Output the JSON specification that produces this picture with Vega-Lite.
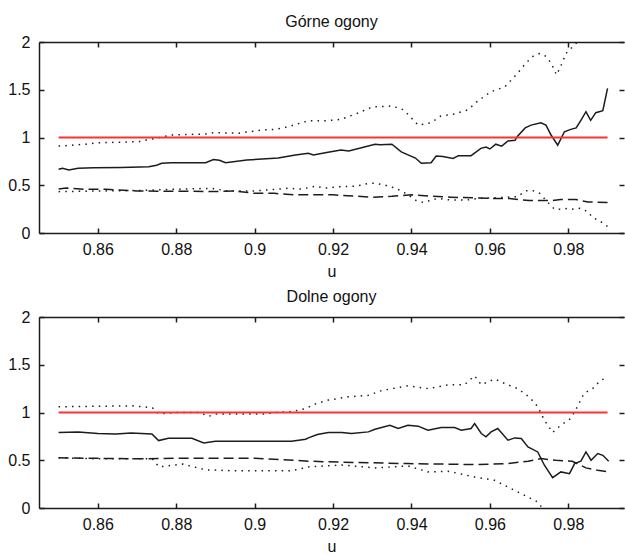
{
  "$schema": "https://vega.github.io/schema/vega-lite/v6.json",
  "background": "white",
  "padding": {"left": 7, "top": 14, "right": 0, "bottom": 0},
  "spacing": 10,
  "config": {
    "view": {"stroke": null},
    "font": "Liberation Sans",
    "axis": {"grid": false, "labelFont": "Liberation Sans", "labelFontSize": 16, "labelColor": "#111", "domainColor": "#1c1c1c", "domainWidth": 1.5, "tickColor": "#1c1c1c", "tickWidth": 1.5, "titleFont": "Liberation Sans", "titleFontSize": 16, "titleFontWeight": "normal", "titleColor": "#111"},
    "title": {"font": "Liberation Sans", "fontSize": 16, "fontWeight": "normal", "color": "#111", "offset": 4}
  },
  "datasets": {
    "d": [
      {"p":"G","s":"ref","u":0.85,"v":1},{"p":"G","s":"ref","u":0.99,"v":1},
      {"p":"D","s":"ref","u":0.85,"v":1},{"p":"D","s":"ref","u":0.99,"v":1},

      {"p":"G","s":"est","u":0.85,"v":0.667},{"p":"G","s":"est","u":0.851,"v":0.677},{"p":"G","s":"est","u":0.8526,"v":0.66},{"p":"G","s":"est","u":0.855,"v":0.677},{"p":"G","s":"est","u":0.859,"v":0.683},{"p":"G","s":"est","u":0.866,"v":0.687},{"p":"G","s":"est","u":0.873,"v":0.694},{"p":"G","s":"est","u":0.875,"v":0.71},{"p":"G","s":"est","u":0.8763,"v":0.73},{"p":"G","s":"est","u":0.8788,"v":0.736},{"p":"G","s":"est","u":0.8875,"v":0.736},{"p":"G","s":"est","u":0.8895,"v":0.77},{"p":"G","s":"est","u":0.891,"v":0.762},{"p":"G","s":"est","u":0.8926,"v":0.736},{"p":"G","s":"est","u":0.898,"v":0.764},{"p":"G","s":"est","u":0.906,"v":0.785},{"p":"G","s":"est","u":0.9104,"v":0.817},{"p":"G","s":"est","u":0.9137,"v":0.834},{"p":"G","s":"est","u":0.915,"v":0.817},{"p":"G","s":"est","u":0.918,"v":0.84},{"p":"G","s":"est","u":0.922,"v":0.87},{"p":"G","s":"est","u":0.924,"v":0.86},{"p":"G","s":"est","u":0.927,"v":0.89},{"p":"G","s":"est","u":0.9307,"v":0.93},{"p":"G","s":"est","u":0.932,"v":0.925},{"p":"G","s":"est","u":0.935,"v":0.93},{"p":"G","s":"est","u":0.9374,"v":0.85},{"p":"G","s":"est","u":0.941,"v":0.785},{"p":"G","s":"est","u":0.9425,"v":0.73},{"p":"G","s":"est","u":0.945,"v":0.735},{"p":"G","s":"est","u":0.9463,"v":0.806},{"p":"G","s":"est","u":0.948,"v":0.8},{"p":"G","s":"est","u":0.9506,"v":0.78},{"p":"G","s":"est","u":0.952,"v":0.81},{"p":"G","s":"est","u":0.9552,"v":0.81},{"p":"G","s":"est","u":0.9577,"v":0.886},{"p":"G","s":"est","u":0.959,"v":0.9},{"p":"G","s":"est","u":0.96,"v":0.88},{"p":"G","s":"est","u":0.9615,"v":0.93},{"p":"G","s":"est","u":0.963,"v":0.91},{"p":"G","s":"est","u":0.9646,"v":0.963},{"p":"G","s":"est","u":0.9664,"v":0.97},{"p":"G","s":"est","u":0.967,"v":1.01},{"p":"G","s":"est","u":0.969,"v":1.1},{"p":"G","s":"est","u":0.9705,"v":1.13},{"p":"G","s":"est","u":0.973,"v":1.155},{"p":"G","s":"est","u":0.9743,"v":1.13},{"p":"G","s":"est","u":0.9756,"v":1.026},{"p":"G","s":"est","u":0.9773,"v":0.92},{"p":"G","s":"est","u":0.979,"v":1.06},{"p":"G","s":"est","u":0.9806,"v":1.085},{"p":"G","s":"est","u":0.982,"v":1.1},{"p":"G","s":"est","u":0.9832,"v":1.18},{"p":"G","s":"est","u":0.9845,"v":1.27},{"p":"G","s":"est","u":0.9857,"v":1.18},{"p":"G","s":"est","u":0.987,"v":1.26},{"p":"G","s":"est","u":0.9888,"v":1.28},{"p":"G","s":"est","u":0.99,"v":1.515},

      {"p":"G","s":"mid","u":0.85,"v":0.46},{"p":"G","s":"mid","u":0.852,"v":0.47},{"p":"G","s":"mid","u":0.857,"v":0.457},{"p":"G","s":"mid","u":0.862,"v":0.457},{"p":"G","s":"mid","u":0.87,"v":0.44},{"p":"G","s":"mid","u":0.88,"v":0.437},{"p":"G","s":"mid","u":0.89,"v":0.435},{"p":"G","s":"mid","u":0.895,"v":0.44},{"p":"G","s":"mid","u":0.9,"v":0.415},{"p":"G","s":"mid","u":0.905,"v":0.415},{"p":"G","s":"mid","u":0.91,"v":0.4},{"p":"G","s":"mid","u":0.92,"v":0.4},{"p":"G","s":"mid","u":0.925,"v":0.387},{"p":"G","s":"mid","u":0.93,"v":0.375},{"p":"G","s":"mid","u":0.935,"v":0.385},{"p":"G","s":"mid","u":0.94,"v":0.4},{"p":"G","s":"mid","u":0.945,"v":0.385},{"p":"G","s":"mid","u":0.95,"v":0.375},{"p":"G","s":"mid","u":0.96,"v":0.363},{"p":"G","s":"mid","u":0.965,"v":0.36},{"p":"G","s":"mid","u":0.97,"v":0.34},{"p":"G","s":"mid","u":0.976,"v":0.34},{"p":"G","s":"mid","u":0.978,"v":0.35},{"p":"G","s":"mid","u":0.982,"v":0.35},{"p":"G","s":"mid","u":0.985,"v":0.325},{"p":"G","s":"mid","u":0.99,"v":0.32},

      {"p":"G","s":"hi","u":0.85,"v":0.91},{"p":"G","s":"hi","u":0.857,"v":0.93},{"p":"G","s":"hi","u":0.86,"v":0.945},{"p":"G","s":"hi","u":0.8704,"v":0.956},{"p":"G","s":"hi","u":0.8738,"v":0.984},{"p":"G","s":"hi","u":0.8788,"v":1.026},{"p":"G","s":"hi","u":0.8875,"v":1.037},{"p":"G","s":"hi","u":0.8895,"v":1.05},{"p":"G","s":"hi","u":0.896,"v":1.045},{"p":"G","s":"hi","u":0.9017,"v":1.078},{"p":"G","s":"hi","u":0.9053,"v":1.085},{"p":"G","s":"hi","u":0.9086,"v":1.113},{"p":"G","s":"hi","u":0.9137,"v":1.176},{"p":"G","s":"hi","u":0.918,"v":1.175},{"p":"G","s":"hi","u":0.922,"v":1.19},{"p":"G","s":"hi","u":0.926,"v":1.25},{"p":"G","s":"hi","u":0.93,"v":1.32},{"p":"G","s":"hi","u":0.935,"v":1.33},{"p":"G","s":"hi","u":0.938,"v":1.29},{"p":"G","s":"hi","u":0.9417,"v":1.13},{"p":"G","s":"hi","u":0.945,"v":1.155},{"p":"G","s":"hi","u":0.9475,"v":1.225},{"p":"G","s":"hi","u":0.951,"v":1.246},{"p":"G","s":"hi","u":0.9544,"v":1.29},{"p":"G","s":"hi","u":0.957,"v":1.385},{"p":"G","s":"hi","u":0.9603,"v":1.48},{"p":"G","s":"hi","u":0.9638,"v":1.53},{"p":"G","s":"hi","u":0.967,"v":1.67},{"p":"G","s":"hi","u":0.9692,"v":1.78},{"p":"G","s":"hi","u":0.971,"v":1.85},{"p":"G","s":"hi","u":0.9727,"v":1.88},{"p":"G","s":"hi","u":0.9743,"v":1.85},{"p":"G","s":"hi","u":0.9756,"v":1.78},{"p":"G","s":"hi","u":0.977,"v":1.655},{"p":"G","s":"hi","u":0.978,"v":1.74},{"p":"G","s":"hi","u":0.9794,"v":1.88},{"p":"G","s":"hi","u":0.9806,"v":1.93},{"p":"G","s":"hi","u":0.982,"v":1.986},{"p":"G","s":"hi","u":0.985,"v":2.12},{"p":"G","s":"hi","u":0.99,"v":2.3},

      {"p":"G","s":"lo","u":0.85,"v":0.433},{"p":"G","s":"lo","u":0.86,"v":0.44},{"p":"G","s":"lo","u":0.87,"v":0.445},{"p":"G","s":"lo","u":0.879,"v":0.457},{"p":"G","s":"lo","u":0.889,"v":0.468},{"p":"G","s":"lo","u":0.893,"v":0.44},{"p":"G","s":"lo","u":0.9,"v":0.44},{"p":"G","s":"lo","u":0.9086,"v":0.468},{"p":"G","s":"lo","u":0.912,"v":0.46},{"p":"G","s":"lo","u":0.9155,"v":0.49},{"p":"G","s":"lo","u":0.918,"v":0.47},{"p":"G","s":"lo","u":0.922,"v":0.485},{"p":"G","s":"lo","u":0.926,"v":0.49},{"p":"G","s":"lo","u":0.929,"v":0.52},{"p":"G","s":"lo","u":0.931,"v":0.52},{"p":"G","s":"lo","u":0.9333,"v":0.5},{"p":"G","s":"lo","u":0.936,"v":0.468},{"p":"G","s":"lo","u":0.9385,"v":0.415},{"p":"G","s":"lo","u":0.9412,"v":0.34},{"p":"G","s":"lo","u":0.943,"v":0.32},{"p":"G","s":"lo","u":0.9467,"v":0.363},{"p":"G","s":"lo","u":0.95,"v":0.345},{"p":"G","s":"lo","u":0.954,"v":0.345},{"p":"G","s":"lo","u":0.9573,"v":0.363},{"p":"G","s":"lo","u":0.9638,"v":0.374},{"p":"G","s":"lo","u":0.967,"v":0.38},{"p":"G","s":"lo","u":0.9692,"v":0.443},{"p":"G","s":"lo","u":0.971,"v":0.443},{"p":"G","s":"lo","u":0.9727,"v":0.415},{"p":"G","s":"lo","u":0.9748,"v":0.32},{"p":"G","s":"lo","u":0.9765,"v":0.248},{"p":"G","s":"lo","u":0.978,"v":0.248},{"p":"G","s":"lo","u":0.98,"v":0.258},{"p":"G","s":"lo","u":0.9816,"v":0.248},{"p":"G","s":"lo","u":0.983,"v":0.258},{"p":"G","s":"lo","u":0.985,"v":0.223},{"p":"G","s":"lo","u":0.9862,"v":0.16},{"p":"G","s":"lo","u":0.988,"v":0.129},{"p":"G","s":"lo","u":0.9893,"v":0.084},{"p":"G","s":"lo","u":0.99,"v":0.07},

      {"p":"D","s":"est","u":0.85,"v":0.79},{"p":"D","s":"est","u":0.855,"v":0.795},{"p":"D","s":"est","u":0.86,"v":0.78},{"p":"D","s":"est","u":0.8646,"v":0.776},{"p":"D","s":"est","u":0.8685,"v":0.786},{"p":"D","s":"est","u":0.8738,"v":0.776},{"p":"D","s":"est","u":0.8755,"v":0.706},{"p":"D","s":"est","u":0.878,"v":0.73},{"p":"D","s":"est","u":0.884,"v":0.73},{"p":"D","s":"est","u":0.887,"v":0.68},{"p":"D","s":"est","u":0.89,"v":0.7},{"p":"D","s":"est","u":0.9094,"v":0.7},{"p":"D","s":"est","u":0.913,"v":0.72},{"p":"D","s":"est","u":0.9137,"v":0.734},{"p":"D","s":"est","u":0.916,"v":0.77},{"p":"D","s":"est","u":0.9188,"v":0.79},{"p":"D","s":"est","u":0.9222,"v":0.79},{"p":"D","s":"est","u":0.9247,"v":0.78},{"p":"D","s":"est","u":0.929,"v":0.797},{"p":"D","s":"est","u":0.9307,"v":0.825},{"p":"D","s":"est","u":0.9345,"v":0.867},{"p":"D","s":"est","u":0.9366,"v":0.832},{"p":"D","s":"est","u":0.9391,"v":0.867},{"p":"D","s":"est","u":0.9417,"v":0.857},{"p":"D","s":"est","u":0.9442,"v":0.815},{"p":"D","s":"est","u":0.9476,"v":0.843},{"p":"D","s":"est","u":0.951,"v":0.843},{"p":"D","s":"est","u":0.9527,"v":0.815},{"p":"D","s":"est","u":0.9552,"v":0.832},{"p":"D","s":"est","u":0.9561,"v":0.885},{"p":"D","s":"est","u":0.9578,"v":0.78},{"p":"D","s":"est","u":0.959,"v":0.745},{"p":"D","s":"est","u":0.9603,"v":0.797},{"p":"D","s":"est","u":0.962,"v":0.832},{"p":"D","s":"est","u":0.9646,"v":0.71},{"p":"D","s":"est","u":0.9663,"v":0.734},{"p":"D","s":"est","u":0.968,"v":0.727},{"p":"D","s":"est","u":0.9697,"v":0.64},{"p":"D","s":"est","u":0.9722,"v":0.587},{"p":"D","s":"est","u":0.9739,"v":0.448},{"p":"D","s":"est","u":0.976,"v":0.318},{"p":"D","s":"est","u":0.9781,"v":0.378},{"p":"D","s":"est","u":0.9803,"v":0.36},{"p":"D","s":"est","u":0.9816,"v":0.465},{"p":"D","s":"est","u":0.9832,"v":0.49},{"p":"D","s":"est","u":0.9845,"v":0.587},{"p":"D","s":"est","u":0.9858,"v":0.5},{"p":"D","s":"est","u":0.9875,"v":0.57},{"p":"D","s":"est","u":0.9888,"v":0.552},{"p":"D","s":"est","u":0.9903,"v":0.49},

      {"p":"D","s":"mid","u":0.85,"v":0.525},{"p":"D","s":"mid","u":0.87,"v":0.515},{"p":"D","s":"mid","u":0.88,"v":0.52},{"p":"D","s":"mid","u":0.9,"v":0.52},{"p":"D","s":"mid","u":0.91,"v":0.5},{"p":"D","s":"mid","u":0.9137,"v":0.49},{"p":"D","s":"mid","u":0.9222,"v":0.48},{"p":"D","s":"mid","u":0.9391,"v":0.465},{"p":"D","s":"mid","u":0.9561,"v":0.455},{"p":"D","s":"mid","u":0.9646,"v":0.465},{"p":"D","s":"mid","u":0.9697,"v":0.49},{"p":"D","s":"mid","u":0.973,"v":0.517},{"p":"D","s":"mid","u":0.9768,"v":0.5},{"p":"D","s":"mid","u":0.981,"v":0.49},{"p":"D","s":"mid","u":0.9845,"v":0.42},{"p":"D","s":"mid","u":0.9875,"v":0.395},{"p":"D","s":"mid","u":0.9903,"v":0.378},

      {"p":"D","s":"hi","u":0.85,"v":1.06},{"p":"D","s":"hi","u":0.8603,"v":1.065},{"p":"D","s":"hi","u":0.8688,"v":1.07},{"p":"D","s":"hi","u":0.8739,"v":1.05},{"p":"D","s":"hi","u":0.8756,"v":0.985},{"p":"D","s":"hi","u":0.8799,"v":1.0},{"p":"D","s":"hi","u":0.8858,"v":1.0},{"p":"D","s":"hi","u":0.8883,"v":0.96},{"p":"D","s":"hi","u":0.89,"v":0.985},{"p":"D","s":"hi","u":0.9027,"v":0.985},{"p":"D","s":"hi","u":0.9053,"v":1.0},{"p":"D","s":"hi","u":0.9095,"v":1.01},{"p":"D","s":"hi","u":0.9129,"v":1.04},{"p":"D","s":"hi","u":0.9155,"v":1.09},{"p":"D","s":"hi","u":0.9188,"v":1.13},{"p":"D","s":"hi","u":0.9239,"v":1.164},{"p":"D","s":"hi","u":0.929,"v":1.18},{"p":"D","s":"hi","u":0.9324,"v":1.23},{"p":"D","s":"hi","u":0.9391,"v":1.28},{"p":"D","s":"hi","u":0.9442,"v":1.25},{"p":"D","s":"hi","u":0.9493,"v":1.29},{"p":"D","s":"hi","u":0.9535,"v":1.29},{"p":"D","s":"hi","u":0.9561,"v":1.385},{"p":"D","s":"hi","u":0.9578,"v":1.29},{"p":"D","s":"hi","u":0.9612,"v":1.35},{"p":"D","s":"hi","u":0.9646,"v":1.29},{"p":"D","s":"hi","u":0.9671,"v":1.25},{"p":"D","s":"hi","u":0.9701,"v":1.16},{"p":"D","s":"hi","u":0.9722,"v":1.06},{"p":"D","s":"hi","u":0.9739,"v":0.92},{"p":"D","s":"hi","u":0.976,"v":0.79},{"p":"D","s":"hi","u":0.9781,"v":0.867},{"p":"D","s":"hi","u":0.9806,"v":0.937},{"p":"D","s":"hi","u":0.9823,"v":1.06},{"p":"D","s":"hi","u":0.984,"v":1.2},{"p":"D","s":"hi","u":0.9862,"v":1.25},{"p":"D","s":"hi","u":0.9883,"v":1.34},{"p":"D","s":"hi","u":0.9896,"v":1.357},

      {"p":"D","s":"lo","u":0.85,"v":0.525},{"p":"D","s":"lo","u":0.8603,"v":0.515},{"p":"D","s":"lo","u":0.8739,"v":0.515},{"p":"D","s":"lo","u":0.8756,"v":0.43},{"p":"D","s":"lo","u":0.8816,"v":0.46},{"p":"D","s":"lo","u":0.8875,"v":0.4},{"p":"D","s":"lo","u":0.8943,"v":0.39},{"p":"D","s":"lo","u":0.9095,"v":0.39},{"p":"D","s":"lo","u":0.9137,"v":0.43},{"p":"D","s":"lo","u":0.9222,"v":0.45},{"p":"D","s":"lo","u":0.9307,"v":0.42},{"p":"D","s":"lo","u":0.9391,"v":0.44},{"p":"D","s":"lo","u":0.9442,"v":0.378},{"p":"D","s":"lo","u":0.9493,"v":0.385},{"p":"D","s":"lo","u":0.9561,"v":0.325},{"p":"D","s":"lo","u":0.9612,"v":0.29},{"p":"D","s":"lo","u":0.9646,"v":0.22},{"p":"D","s":"lo","u":0.968,"v":0.15},{"p":"D","s":"lo","u":0.9722,"v":0.063},{"p":"D","s":"lo","u":0.9735,"v":-0.007},{"p":"D","s":"lo","u":0.98,"v":-0.25},{"p":"D","s":"lo","u":0.99,"v":-0.55}
    ]
  },
  "vconcat": [
    {
      "width": 585, "height": 191,
      "title": {"text": "Górne ogony"},
      "data": {"name": "d"},
      "transform": [{"filter": "datum.p === 'G'"}],
      "layer": [
        {
          "transform": [{"filter": "datum.s === 'est'"}],
          "mark": {"type": "line", "clip": true, "strokeWidth": 1.5, "color": "#1c1c1c"},
          "encoding": {
            "x": {"field": "u", "type": "quantitative", "scale": {"domain": [0.845, 0.9942], "nice": false, "zero": false},
                  "axis": {"orient": "bottom", "values": [0.86, 0.88, 0.9, 0.92, 0.94, 0.96, 0.98], "format": "~g", "ticks": false, "labelPadding": 8, "title": "u", "titlePadding": 6}},
            "y": {"field": "v", "type": "quantitative", "scale": {"domain": [0, 2], "nice": false, "zero": false},
                  "axis": {"orient": "left", "values": [0, 0.5, 1, 1.5, 2], "format": "~g", "ticks": false, "labelPadding": 9, "title": null}}
          }
        },
        {
          "transform": [{"filter": "datum.s === 'mid'"}],
          "mark": {"type": "line", "clip": true, "strokeWidth": 1.5, "color": "#1c1c1c", "strokeDash": [10, 5]},
          "encoding": {
            "x": {"field": "u", "type": "quantitative", "axis": {"orient": "bottom", "values": [0.86, 0.88, 0.9, 0.92, 0.94, 0.96, 0.98], "offset": -5, "tickSize": 5, "domain": false, "labels": false, "title": null}},
            "y": {"field": "v", "type": "quantitative", "axis": {"orient": "left", "values": [0, 0.5, 1, 1.5, 2], "offset": -5, "tickSize": 5, "domain": false, "labels": false, "title": null}}
          }
        },
        {
          "transform": [{"filter": "datum.s === 'hi'"}],
          "mark": {"type": "line", "clip": true, "strokeWidth": 1.5, "color": "#1c1c1c", "strokeDash": [1.5, 5.2]},
          "encoding": {
            "x": {"field": "u", "type": "quantitative", "axis": {"orient": "top", "values": [0.86, 0.88, 0.9, 0.92, 0.94, 0.96, 0.98], "ticks": false, "labels": false, "title": null}},
            "y": {"field": "v", "type": "quantitative", "axis": {"orient": "right", "values": [0, 0.5, 1, 1.5, 2], "offset": -5, "tickSize": 5, "domain": false, "labels": false, "title": null}}
          }
        },
        {
          "transform": [{"filter": "datum.s === 'lo'"}],
          "mark": {"type": "line", "clip": true, "strokeWidth": 1.5, "color": "#1c1c1c", "strokeDash": [1.5, 5.2]},
          "encoding": {
            "x": {"field": "u", "type": "quantitative", "axis": {"orient": "top", "values": [0.86, 0.88, 0.9, 0.92, 0.94, 0.96, 0.98], "offset": -5, "tickSize": 5, "domain": false, "labels": false, "title": null}},
            "y": {"field": "v", "type": "quantitative", "axis": null}
          }
        },
        {
          "transform": [{"filter": "datum.s === 'ref'"}],
          "mark": {"type": "line", "clip": true, "color": "#ff3030", "strokeWidth": 1.8},
          "encoding": {"x": {"field": "u", "type": "quantitative", "axis": null}, "y": {"field": "v", "type": "quantitative", "axis": null}}
        }
      ],
      "resolve": {"axis": {"x": "independent", "y": "independent"}}
    },
    {
      "width": 585, "height": 191,
      "title": {"text": "Dolne ogony"},
      "data": {"name": "d"},
      "transform": [{"filter": "datum.p === 'D'"}],
      "layer": [
        {
          "transform": [{"filter": "datum.s === 'est'"}],
          "mark": {"type": "line", "clip": true, "strokeWidth": 1.5, "color": "#1c1c1c"},
          "encoding": {
            "x": {"field": "u", "type": "quantitative", "scale": {"domain": [0.845, 0.9942], "nice": false, "zero": false},
                  "axis": {"orient": "bottom", "values": [0.86, 0.88, 0.9, 0.92, 0.94, 0.96, 0.98], "format": "~g", "ticks": false, "labelPadding": 8, "title": "u", "titlePadding": 6}},
            "y": {"field": "v", "type": "quantitative", "scale": {"domain": [0, 2], "nice": false, "zero": false},
                  "axis": {"orient": "left", "values": [0, 0.5, 1, 1.5, 2], "format": "~g", "ticks": false, "labelPadding": 9, "title": null}}
          }
        },
        {
          "transform": [{"filter": "datum.s === 'mid'"}],
          "mark": {"type": "line", "clip": true, "strokeWidth": 1.5, "color": "#1c1c1c", "strokeDash": [10, 5]},
          "encoding": {
            "x": {"field": "u", "type": "quantitative", "axis": {"orient": "bottom", "values": [0.86, 0.88, 0.9, 0.92, 0.94, 0.96, 0.98], "offset": -5, "tickSize": 5, "domain": false, "labels": false, "title": null}},
            "y": {"field": "v", "type": "quantitative", "axis": {"orient": "left", "values": [0, 0.5, 1, 1.5, 2], "offset": -5, "tickSize": 5, "domain": false, "labels": false, "title": null}}
          }
        },
        {
          "transform": [{"filter": "datum.s === 'hi'"}],
          "mark": {"type": "line", "clip": true, "strokeWidth": 1.5, "color": "#1c1c1c", "strokeDash": [1.5, 5.2]},
          "encoding": {
            "x": {"field": "u", "type": "quantitative", "axis": {"orient": "top", "values": [0.86, 0.88, 0.9, 0.92, 0.94, 0.96, 0.98], "ticks": false, "labels": false, "title": null}},
            "y": {"field": "v", "type": "quantitative", "axis": {"orient": "right", "values": [0, 0.5, 1, 1.5, 2], "offset": -5, "tickSize": 5, "domain": false, "labels": false, "title": null}}
          }
        },
        {
          "transform": [{"filter": "datum.s === 'lo'"}],
          "mark": {"type": "line", "clip": true, "strokeWidth": 1.5, "color": "#1c1c1c", "strokeDash": [1.5, 5.2]},
          "encoding": {
            "x": {"field": "u", "type": "quantitative", "axis": {"orient": "top", "values": [0.86, 0.88, 0.9, 0.92, 0.94, 0.96, 0.98], "offset": -5, "tickSize": 5, "domain": false, "labels": false, "title": null}},
            "y": {"field": "v", "type": "quantitative", "axis": null}
          }
        },
        {
          "transform": [{"filter": "datum.s === 'ref'"}],
          "mark": {"type": "line", "clip": true, "color": "#ff3030", "strokeWidth": 1.8},
          "encoding": {"x": {"field": "u", "type": "quantitative", "axis": null}, "y": {"field": "v", "type": "quantitative", "axis": null}}
        }
      ],
      "resolve": {"axis": {"x": "independent", "y": "independent"}}
    }
  ]
}
